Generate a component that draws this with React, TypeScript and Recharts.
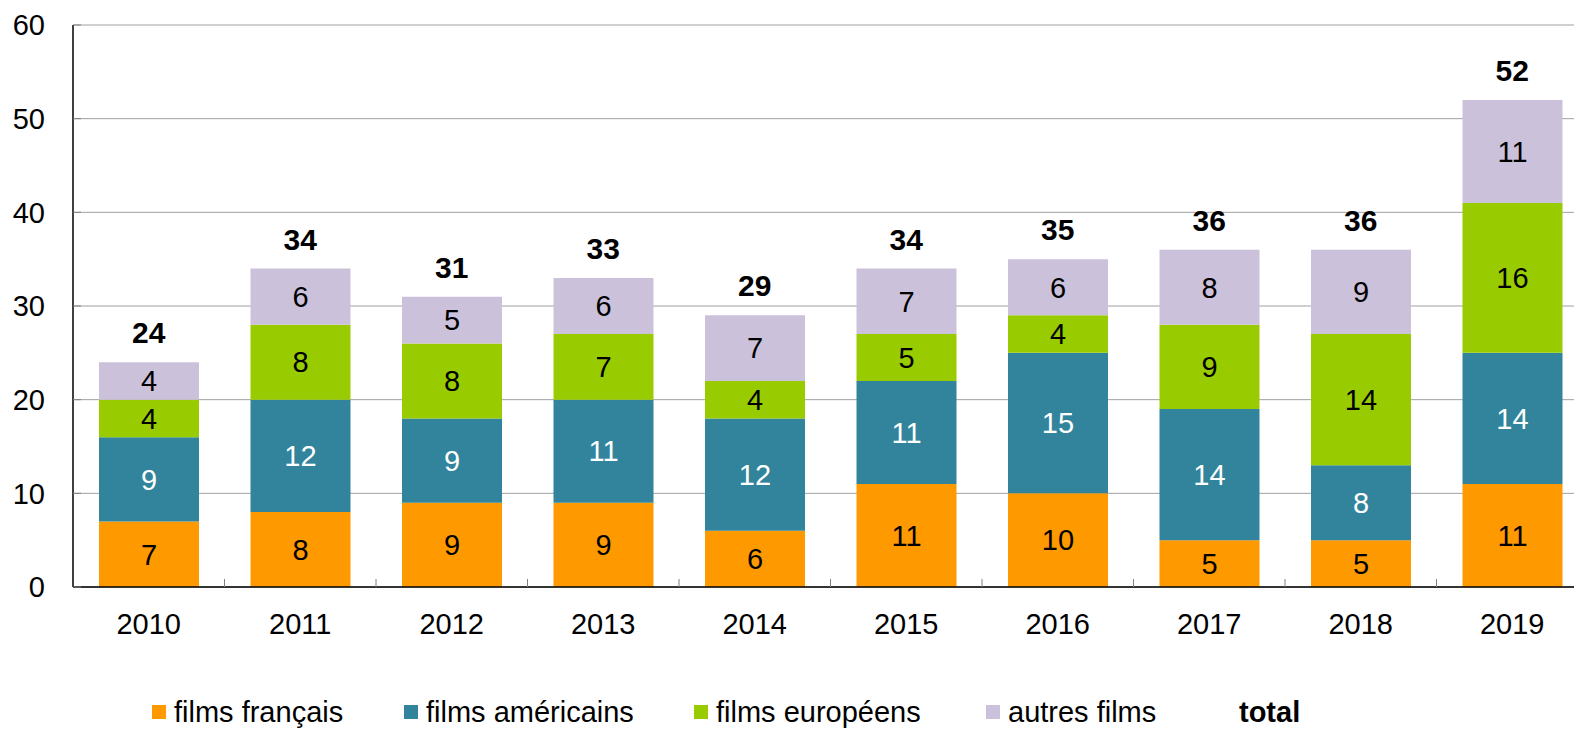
import React from 'react';
import {
  ComposedChart,
  Bar,
  Line,
  XAxis,
  YAxis,
  CartesianGrid,
  LabelList,
} from 'recharts';

// valeurs
const years = ['2010', '2011', '2012', '2013', '2014', '2015', '2016', '2017', '2018', '2019'];
const filmsFrancais = [7, 8, 9, 9, 6, 11, 10, 5, 5, 11];
const filmsAmericains = [9, 12, 9, 11, 12, 11, 15, 14, 8, 14];
const filmsEuropeens = [4, 8, 8, 7, 4, 5, 4, 9, 14, 16];
const autresFilms = [4, 6, 5, 6, 7, 7, 6, 8, 9, 11];
const totals = [24, 34, 31, 33, 29, 34, 35, 36, 36, 52];
const yTicks = [0, 10, 20, 30, 40, 50, 60];

const data = years.map((year, i) => ({
  year,
  fr: filmsFrancais[i],
  us: filmsAmericains[i],
  eu: filmsEuropeens[i],
  other: autresFilms[i],
  total: totals[i],
}));

const FONT = '"Liberation Sans", Arial, Helvetica, sans-serif';

const legendItems = [
  { label: 'films français', color: '#FF9900', left: 152 },
  { label: 'films américains', color: '#31849B', left: 404 },
  { label: 'films européens', color: '#99CC00', left: 694 },
  { label: 'autres films', color: '#CCC1DA', left: 986 },
];

function YTick(props: any) {
  const { x, y, payload } = props;
  return (
    <g>
      <line x1={x + 28} x2={x + 36} y1={y} y2={y} stroke="#808080" />
      <text x={x} y={y} dy="0.355em" textAnchor="end" fill="#000" fontSize={29}>
        {payload.value}
      </text>
    </g>
  );
}

function XTick(props: any) {
  const { x, y, payload } = props;
  return (
    <g>
      <line x1={x + 75.75} x2={x + 75.75} y1={y - 26} y2={y - 34} stroke="#808080" />
      <text x={x} y={y} dy="0.71em" textAnchor="middle" fill="#000" fontSize={29}>
        {payload.value}
      </text>
    </g>
  );
}

function TotalLabel(props: any) {
  const { x, y, value } = props;
  return (
    <text x={x} y={y - 19} textAnchor="middle" fill="#000" fontSize={30} fontWeight="bold">
      {value}
    </text>
  );
}

export default function App() {
  return (
    <div
      style={{
        position: 'fixed',
        top: 0,
        left: 0,
        width: 1574,
        height: 730,
        overflow: 'hidden',
        background: '#fff',
        fontFamily: FONT,
      }}
    >
      <ComposedChart
        width={1600}
        height={730}
        data={data}
        margin={{ top: 25, right: 12, left: 0, bottom: 0 }}
      >
        <CartesianGrid vertical={false} stroke="#a0a0a0" />
        <XAxis
          dataKey="year"
          height={143}
          axisLine={{ stroke: '#000', strokeWidth: 1.5 }}
          tickLine={false}
          tickSize={0}
          tickMargin={26}
          tick={<XTick />}
          interval={0}
        />
        <YAxis
          width={73}
          domain={[0, 60]}
          ticks={yTicks}
          axisLine={{ stroke: '#000', strokeWidth: 1.5 }}
          tickLine={false}
          tickSize={0}
          tickMargin={28}
          tick={<YTick />}
          interval={0}
        />
        <Bar dataKey="fr" stackId="a" fill="#FF9900" barSize={100} isAnimationActive={false}>
          <LabelList dataKey="fr" position="center" fill="#000" fontSize={29} />
        </Bar>
        <Bar dataKey="us" stackId="a" fill="#31849B" barSize={100} isAnimationActive={false}>
          <LabelList dataKey="us" position="center" fill="#fff" fontSize={29} />
        </Bar>
        <Bar dataKey="eu" stackId="a" fill="#99CC00" barSize={100} isAnimationActive={false}>
          <LabelList dataKey="eu" position="center" fill="#000" fontSize={29} />
        </Bar>
        <Bar dataKey="other" stackId="a" fill="#CCC1DA" barSize={100} isAnimationActive={false}>
          <LabelList dataKey="other" position="center" fill="#000" fontSize={29} />
        </Bar>
        <Line
          dataKey="total"
          stroke="none"
          dot={false}
          activeDot={false}
          isAnimationActive={false}
          label={<TotalLabel />}
        />
      </ComposedChart>
      {legendItems.map((item) => (
        <div
          key={item.label}
          style={{
            position: 'absolute',
            left: item.left,
            top: 695,
            height: 34,
            display: 'flex',
            alignItems: 'center',
            fontSize: 29,
            color: '#000',
            whiteSpace: 'nowrap',
          }}
        >
          <span
            style={{
              display: 'inline-block',
              width: 14,
              height: 14,
              background: item.color,
              marginRight: 8,
            }}
          />
          {item.label}
        </div>
      ))}
      <div
        style={{
          position: 'absolute',
          left: 1239,
          top: 695,
          height: 34,
          display: 'flex',
          alignItems: 'center',
          fontSize: 29,
          fontWeight: 'bold',
          color: '#000',
        }}
      >
        total
      </div>
    </div>
  );
}
